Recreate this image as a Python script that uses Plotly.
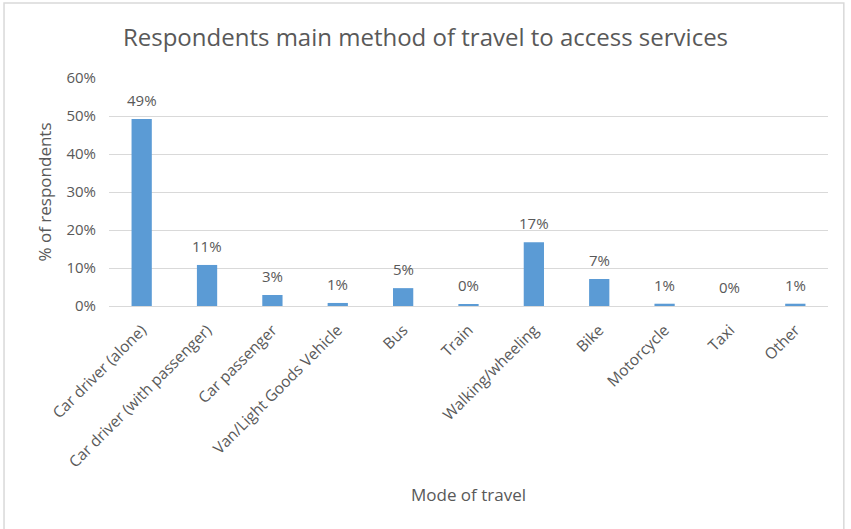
import plotly.graph_objects as go

modes = ["Car driver (alone)", "Car driver (with passenger)", "Car passenger",
         "Van/Light Goods Vehicle", "Bus", "Train", "Walking/wheeling", "Bike",
         "Motorcycle", "Taxi", "Other"]
share = [0.492, 0.108, 0.029, 0.008, 0.047, 0.004, 0.168, 0.071, 0.006, 0.0, 0.006]
y_ticks = [0, 0.1, 0.2, 0.3, 0.4, 0.5, 0.6]

FONT = "Open Sans, Lato, sans-serif"
GREY = "#595959"

fig = go.Figure(go.Bar(
    x=modes, y=share,
    marker=dict(color="#5B9BD5", line=dict(width=0)),
    cliponaxis=False,
))

# value labels sitting above each bar
for m, v in zip(modes, share):
    fig.add_annotation(x=m, y=v, text=f"{v:.0%}", showarrow=False,
                       yanchor="bottom", yshift=7,
                       font=dict(family=FONT, size=15, color=GREY))

fig.update_layout(
    width=851, height=529,
    margin=dict(l=109, r=23, t=78, b=223),
    paper_bgcolor="white", plot_bgcolor="white",
    bargap=0.69,
    showlegend=False,
    title=dict(text="Respondents main method of travel to access services",
               x=0.5, xanchor="center", y=0.928, yanchor="middle",
               font=dict(family=FONT, size=24, color=GREY)),
    font=dict(family=FONT, color=GREY),
    xaxis=dict(tickangle=-45, tickfont=dict(size=15.5, color=GREY),
               showline=True, linecolor="#d9d9d9", linewidth=1,
               ticks="", ticklabelstandoff=8,
               title=dict(text="Mode of travel", standoff=18,
                          font=dict(size=17, color=GREY))),
    yaxis=dict(range=[0, 0.6], tickvals=y_ticks, tickformat=".0%",
               tickfont=dict(size=15, color=GREY),
               showgrid=True, gridcolor="#d9d9d9", gridwidth=1,
               zeroline=False, ticks="", ticklabelstandoff=12,
               title=dict(text="% of respondents", standoff=10,
                          font=dict(size=17, color=GREY))),
    shapes=[dict(type="rect", xref="paper", yref="paper",
                 x0=-0.146, x1=1.022, y0=-1.2, y1=1.329,
                 line=dict(color="#d9d9d9", width=1.5), layer="below")],
)

fig.write_html("out.html")
